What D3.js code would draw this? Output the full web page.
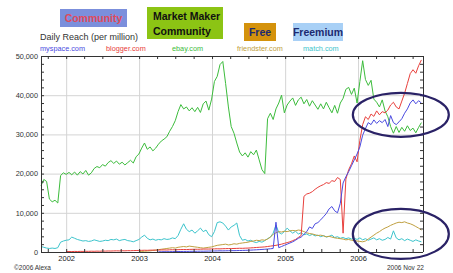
<!DOCTYPE html>
<html>
<head>
<meta charset="utf-8">
<script src="https://cdn.jsdelivr.net/npm/d3@7"></script>
<style>
  body { margin: 0; background: #fff; }
  svg { display: block; }
</style>
</head>
<body>
<div id="chart"></div>
<script>
// Data, sampled every two weeks from the first point
const startDate = new Date(2001, 7, 28);
const endDate = new Date(2006, 10, 22);
const stepDays = 14;

const sites = ["myspace.com", "blogger.com", "ebay.com", "friendster.com", "match.com"];
const siteColors = ["#4a4ae0", "#e8403c", "#3cbc3c", "#c0a040", "#3cc4cc"];

const ebay = [
  16900, 18500, 18000, 13500, 12800, 13200, 12500, 19500, 20200, 19800,
  20300, 19700, 20400, 19600, 20500, 19900, 20800, 19600, 20200, 21300,
  21800, 21500, 22300, 21900, 22800, 23300, 22600, 23200, 22400, 22900,
  22200, 22800, 23400, 22700, 24300, 25000, 26500, 27800, 26200, 26800,
  25800, 26500, 27500, 28300, 28800, 29400, 30800, 32000, 33500, 35800,
  37600, 36500, 37000, 36000, 36800, 35800, 36900, 35600, 37800, 38500,
  36200, 39000, 43500, 44800, 47800, 48600, 43000, 37000, 32000, 30300,
  27800, 25500, 24500, 25300, 24200, 25600, 24800, 26000, 23500, 21000,
  20000, 34000, 35400, 33800, 36500, 38000, 40000, 35500, 37500, 38500,
  39300, 37400, 38800, 39500, 37800, 38900, 37200, 38600, 37500, 36400,
  37800, 36500, 38200, 36800, 35500, 37400, 35400, 38000, 39200, 41500,
  42000, 40200, 41800, 38000, 43500, 48800, 44000, 42500, 43800, 39000,
  38200, 37000, 38800, 36000, 34500, 32000, 30300, 32000, 30500, 31800,
  30800, 32200, 31000, 31600, 30400, 31800, 33000
];

const blogger = [
  null, null, null, null, null, null, null, null, null, 100,
  120, 100, 150, 130, 160, 150, 180, 170, 200, 180,
  220, 200, 240, 230, 260, 250, 280, 300, 280, 320,
  300, 340, 330, 360, 380, 400, 420, 450, 430, 470,
  480, 460, 500, 520, 540, 510, 560, 580, 560, 600,
  620, 640, 620, 660, 680, 700, 690, 720, 740, 760,
  750, 780, 800, 820, 800, 840, 860, 880, 870, 900,
  920, 950, 940, 980, 1000, 1050, 1100, 1150, 1200, 1250,
  1300, 1400, 1500, 1600, 1700, 1850, 2000, 2200, 2400, 2600,
  2900, 3200, 3700, 4200, 14200, 14800, 15000, 15400, 16000, 16500,
  16900, 17200, 17700, 17500, 18200, 18000, 19000, 18500, 4800, 18600,
  21000, 22500, 24500, 23000, 28500, 32500, 34500, 33800, 35200, 34600,
  36000, 35000, 35800, 35500, 36200, 37500, 38200, 37000, 36500, 38500,
  40500, 43000, 45500, 46500, 45600, 47500, 49000
];

const myspace = [
  null, null, null, null, null, null, null, null, null, null,
  null, null, null, null, null, null, null, null, null, null,
  null, null, null, null, null, null, null, null, null, null,
  null, null, null, null, null, null, null, null, null, null,
  null, null, 50, 60, 80, 70, 90, 100, 110, 120,
  130, 150, 140, 160, 180, 170, 190, 210, 200, 220,
  240, 250, 260, 280, 300, 290, 310, 330, 350, 340,
  360, 380, 400, 420, 450, 480, 520, 560, 600, 650,
  700, 760, 820, 900, 7600, 1100, 1400, 1700, 2000, 2300,
  2600, 3000, 3500, 3800, 4500, 5200, 6400, 6000, 7200, 7500,
  8200, 9000, 9800, 11000, 11600, 10500, 10000, 12400, 17600, 19200,
  20500, 22000, 23500, 25000, 26800, 29800, 31500, 33000, 32500, 33700,
  32800, 33500, 33000, 33800, 32000, 34800, 33000, 32500, 33200, 34000,
  35400, 36500, 38000, 38800, 37800, 38600, 38000
];

const friendster = [
  null, null, null, null, null, null, null, null, null, null,
  null, null, null, null, null, null, null, null, null, null,
  null, null, null, null, null, null, null, null, null, null,
  null, null, null, null, null, 100, 150, 200, 250, 300,
  400, 500, 600, 700, 800, 900, 1000, 1100, 1000, 1200,
  1300, 1400, 1300, 1500, 1400, 1300, 1200, 1100, 1000, 1100,
  1200, 1300, 1500, 1700, 1800, 1900, 2000, 1800, 1900, 2100,
  2000, 2200, 2300, 2400, 2500, 2700, 2800, 3000, 2900, 3100,
  3000, 3300, 3800, 4500, 4900, 5200, 5100, 5300, 5200, 5400,
  5500, 5400, 5600, 5500, 5200, 4900, 4700, 4600, 4400, 4200,
  4300, 4100, 3900, 4000, 3800, 3600, 3500, 3400, 3300, 3100,
  3200, 3000, 2900, 2800, 2700, 2600, 2800, 3300, 3800, 4300,
  4800, 5200, 5700, 6100, 6400, 6800, 7100, 7400, 7600, 7500,
  7700, 7400, 7200, 6900, 6500, 6100, 5600
];

const match = [
  1400, 1200, 1000, 900, 1000, 900, 1100, 2500, 2800, 3000,
  3100, 3800, 3500, 3200, 3000, 2800, 2900, 2700, 2800, 3100,
  2900, 2700, 2800, 3000, 2900, 3200, 3100, 3300, 2900, 3100,
  3200, 2900, 2800, 2600, 2900, 3200, 3800, 4300, 3500, 3100,
  3300, 3000, 3200, 3100, 3400, 3200, 3300, 3600, 3400, 4200,
  5800, 7200, 5800, 5200, 5600, 4800, 5400, 6100, 5200, 5600,
  4400, 3900, 5200, 7500, 7700, 7400, 6600, 5600, 6400, 6800,
  7400, 4200, 3000, 3200, 2800, 3000, 2600, 2400, 2700, 2500,
  2900, 3400, 3800, 4800, 6900, 5000, 4600, 5200, 6100, 5400,
  4800, 5300, 4600, 4900, 4400, 4600, 4200, 4500, 4100, 4300,
  3900, 4200, 3800, 4000, 4300, 3700, 3900, 3500, 3700, 3400,
  3600, 3300, 3500, 3200, 3600, 3100, 3400, 3000, 3300, 3600,
  3100, 3400, 3000, 3200, 3700, 3300, 5400, 3600, 3100, 3400,
  2900, 3300, 3000, 2700, 3100, 2800, 2600
];

const yTicks = [0, 10000, 20000, 30000, 40000, 50000];
const yearTicks = [2002, 2003, 2004, 2005, 2006];

// Business model boxes above the legend
const boxes = [
  { lines: ["Community"], x: 60, y: 9, w: 67, h: 18, fill: "#7b8fdc", color: "#e04a5a" },
  { lines: ["Market Maker", "Community"], x: 147, y: 7, w: 76, h: 32, fill: "#8cc414", color: "#111" },
  { lines: ["Free"], x: 244, y: 23, w: 32, h: 18, fill: "#d4920c", color: "#1c2a70" },
  { lines: ["Freemium"], x: 293, y: 23, w: 50, h: 18, fill: "#a8d0f6", color: "#1c2a70" }
];

// circled areas (centre in data terms, radii in px)
const rings = [
  { date: new Date(2006, 7, 3), value: 35000, rx: 48, ry: 22 },
  { date: new Date(2006, 7, 3), value: 4600, rx: 48, ry: 25 }
];

const width = 453;
const height = 273;
const margin = { top: 56, right: 30, bottom: 21, left: 41 };

const dates = d3.range(ebay.length).map(i => d3.timeDay.offset(startDate, i * stepDays));

const svg = d3.select("#chart")
  .append("svg")
  .attr("width", width)
  .attr("height", height)
  .style("font-family", "'Liberation Sans', Arial, sans-serif");

const x = d3.scaleTime()
  .domain([startDate, endDate])
  .range([margin.left, width - margin.right]);

const y = d3.scaleLinear()
  .domain([0, 50000])
  .range([height - margin.bottom, margin.top]);

const x0 = margin.left, x1 = width - margin.right;
const y0 = height - margin.bottom, y1 = margin.top;

// grid
svg.append("g")
  .selectAll("line.h")
  .data(yTicks.slice(1, -1))
  .join("line")
  .attr("x1", x0).attr("x2", x1)
  .attr("y1", d => y(d) + 0.5).attr("y2", d => y(d) + 0.5)
  .attr("stroke", "#d4d4d4");

svg.append("g")
  .selectAll("line.v")
  .data(yearTicks)
  .join("line")
  .attr("x1", d => x(new Date(d, 0, 1)) + 0.5).attr("x2", d => x(new Date(d, 0, 1)) + 0.5)
  .attr("y1", y1).attr("y2", y0)
  .attr("stroke", "#d4d4d4");

// lines
const series = [
  { values: match, color: siteColors[4] },
  { values: friendster, color: siteColors[3] },
  { values: ebay, color: siteColors[2] },
  { values: blogger, color: siteColors[1] },
  { values: myspace, color: siteColors[0] }
];

const line = d3.line()
  .defined(d => d[1] != null)
  .x(d => x(d[0]))
  .y(d => y(d[1]));

svg.append("g")
  .selectAll("path")
  .data(series)
  .join("path")
  .attr("d", s => line(dates.map((d, i) => [d, s.values[i]])))
  .attr("fill", "none")
  .attr("stroke", s => s.color)
  .attr("stroke-width", 1)
  .attr("stroke-linejoin", "round");

// frame + ticks
const quarters = d3.timeMonth.every(3).range(startDate, endDate);
const minorY = d3.range(0, 50001, 2000);

const axisColor = "#333";

svg.append("g")
  .attr("transform", `translate(0,${y1})`)
  .call(d3.axisBottom(x).tickValues(quarters).tickSize(3).tickFormat(""))
  .call(g => g.select(".domain").attr("d", `M${x0},0.5H${x1}`));

svg.append("g")
  .attr("transform", `translate(0,${y0})`)
  .call(d3.axisTop(x).tickValues(quarters).tickSize(3).tickFormat(""))
  .call(g => g.select(".domain").attr("d", `M${x0},0.5H${x1}`));

svg.append("g")
  .attr("transform", `translate(${x0},0)`)
  .call(d3.axisRight(y).tickValues(minorY).tickSize(3).tickFormat(""))
  .call(g => g.select(".domain").attr("d", `M0.5,${y1}V${y0}`));

svg.append("g")
  .attr("transform", `translate(${x1},0)`)
  .call(d3.axisLeft(y).tickValues(minorY).tickSize(3).tickFormat(""))
  .call(g => g.select(".domain").attr("d", `M0.5,${y1}V${y0}`));

svg.selectAll(".tick line, .domain").attr("stroke", axisColor);

// y labels
svg.append("g")
  .attr("transform", `translate(${x0},0)`)
  .call(d3.axisLeft(y).tickValues(yTicks).tickSize(0).tickPadding(3).tickFormat(d3.format(",")))
  .call(g => g.select(".domain").remove())
  .call(g => g.selectAll("text")
    .attr("font-family", "'Liberation Sans', Arial, sans-serif")
    .attr("font-size", 7.3).attr("fill", "#333"));

// year labels
svg.append("g")
  .attr("transform", `translate(0,${y0})`)
  .call(d3.axisBottom(x).tickValues(yearTicks.map(d => new Date(d, 0, 1))).tickSize(0).tickPadding(4)
    .tickFormat(d3.timeFormat("%Y")))
  .call(g => g.select(".domain").remove())
  .call(g => g.selectAll("text")
    .attr("font-family", "'Liberation Sans', Arial, sans-serif")
    .attr("font-size", 7.5).attr("fill", "#222"));

// rings
svg.append("g")
  .selectAll("ellipse")
  .data(rings)
  .join("ellipse")
  .attr("cx", d => x(d.date))
  .attr("cy", d => y(d.value))
  .attr("rx", d => d.rx)
  .attr("ry", d => d.ry)
  .attr("fill", "none")
  .attr("stroke", "#2a2266")
  .attr("stroke-width", 2.2);

// title + legend
svg.append("text")
  .attr("x", 40).attr("y", 40)
  .attr("font-size", 9).attr("fill", "#333")
  .text("Daily Reach (per million)");

const legendX = [40, 106, 172, 237, 303];
svg.append("g")
  .selectAll("text")
  .data(sites)
  .join("text")
  .attr("x", (d, i) => legendX[i])
  .attr("y", 51)
  .attr("font-size", 7.3)
  .attr("fill", (d, i) => siteColors[i])
  .text(d => d);

const box = svg.append("g")
  .selectAll("g")
  .data(boxes)
  .join("g");

box.append("rect")
  .attr("x", d => d.x).attr("y", d => d.y)
  .attr("width", d => d.w).attr("height", d => d.h)
  .attr("fill", d => d.fill);

box.each(function(d) {
  const g = d3.select(this);
  d.lines.forEach((t, i) => {
    g.append("text")
      .attr("x", d.lines.length > 1 ? d.x + 6 : d.x + d.w / 2)
      .attr("y", d.lines.length > 1 ? d.y + 13 + i * 15 : d.y + d.h / 2 + 4)
      .attr("text-anchor", d.lines.length > 1 ? "start" : "middle")
      .attr("font-size", 10.5)
      .attr("font-weight", "bold")
      .attr("fill", d.color)
      .text(t);
  });
});

// footer
svg.append("text")
  .attr("x", 14).attr("y", 270)
  .attr("font-size", 6.5).attr("fill", "#333")
  .text("©2006 Alexa");

svg.append("text")
  .attr("x", 387).attr("y", 270)
  .attr("font-size", 6.5).attr("fill", "#333")
  .text("2006 Nov 22");
</script>
</body>
</html>
